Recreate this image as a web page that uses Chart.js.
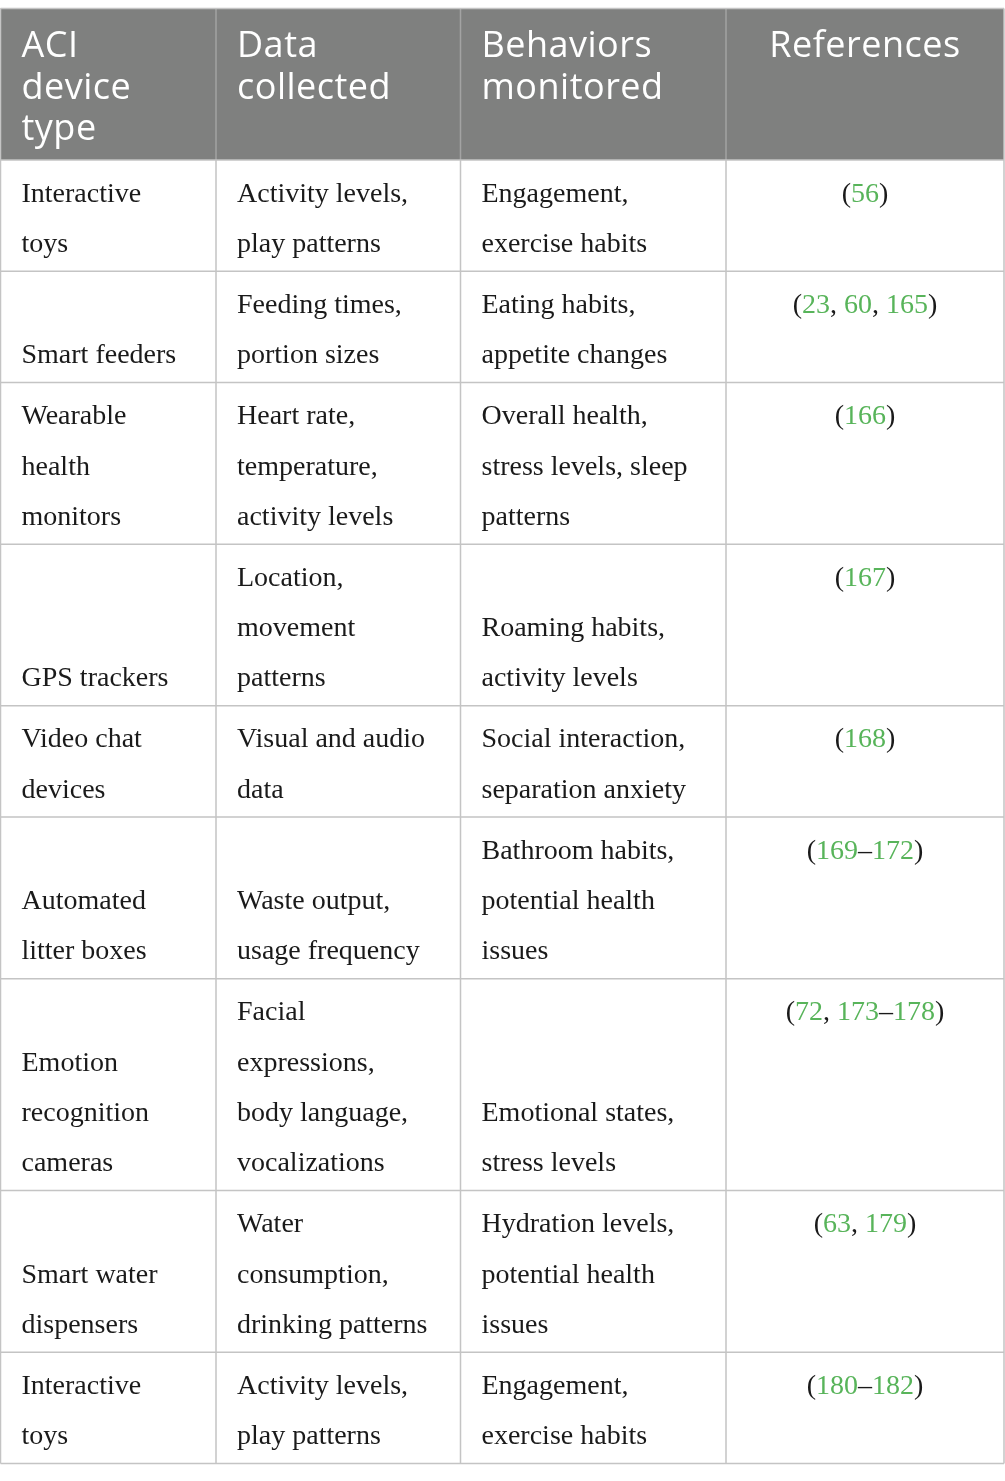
<!DOCTYPE html>
<html>
<head>
<meta charset="utf-8">
<script src="https://cdn.jsdelivr.net/npm/chart.js@4/dist/chart.umd.min.js"></script>
<style>
html,body{margin:0;padding:0;background:#fff;}
canvas{display:block;}
</style>
</head>
<body>
<canvas id="c" width="1005" height="1481"></canvas>
<script>
// ---- table content ----
const headers = [["ACI","device","type"],["Data","collected"],["Behaviors","monitored"],["References"]];
const deviceTypes = [["Interactive","toys"],["Smart feeders"],["Wearable","health","monitors"],["GPS trackers"],["Video chat","devices"],["Automated","litter boxes"],["Emotion","recognition","cameras"],["Smart water","dispensers"],["Interactive","toys"]];
const dataCollected = [["Activity levels,","play patterns"],["Feeding times,","portion sizes"],["Heart rate,","temperature,","activity levels"],["Location,","movement","patterns"],["Visual and audio","data"],["Waste output,","usage frequency"],["Facial","expressions,","body language,","vocalizations"],["Water","consumption,","drinking patterns"],["Activity levels,","play patterns"]];
const behaviors = [["Engagement,","exercise habits"],["Eating habits,","appetite changes"],["Overall health,","stress levels, sleep","patterns"],["Roaming habits,","activity levels"],["Social interaction,","separation anxiety"],["Bathroom habits,","potential health","issues"],["Emotional states,","stress levels"],["Hydration levels,","potential health","issues"],["Engagement,","exercise habits"]];
const references = ["(56)","(23, 60, 165)","(166)","(167)","(168)","(169–172)","(72, 173–178)","(63, 179)","(180–182)"];

// ---- layout (not data) ----
const L = {
  colEdges:[0.5,216,460.5,726,1004],
  top:8.5, headerH:151.5,
  lineH:50.3, pad:5.35, baseOff:36.3,
  hLineH:41.5, hBaseOff:48.5,
  textX:21,
  headerBg:'#7f807f', grid:'#c4c4c4', headerGrid:'#a3a3a3',
  bodyColor:'#1a1a1a', refColor:'#58b45a',
  bodyFont:'28px "Liberation Serif", "Times New Roman", serif',
  headFont:'36px "Open Sans", "Noto Sans", sans-serif',
  headSpacing:'0.5px'
};

const cols=[deviceTypes,dataCollected,behaviors];
const rowLines = deviceTypes.map((_,i)=>Math.max(deviceTypes[i].length,dataCollected[i].length,behaviors[i].length,1));
const rowEdges=[L.top+L.headerH];
rowLines.forEach(n=>rowEdges.push(rowEdges[rowEdges.length-1]+n*L.lineH+2*L.pad));

function drawRef(ctx,text,cx,y){
  const parts=text.split(/(\d+)/).filter(s=>s.length);
  ctx.font=L.bodyFont;
  let w=0; parts.forEach(p=>w+=ctx.measureText(p).width);
  let x=cx-w/2;
  ctx.textAlign='left';
  parts.forEach(p=>{
    ctx.fillStyle=/^\d+$/.test(p)?L.refColor:L.bodyColor;
    ctx.fillText(p,x,y);
    x+=ctx.measureText(p).width;
  });
}

const tablePlugin={
  id:'table',
  afterDraw(chart){
    const ctx=chart.ctx, xs=chart.scales.x, ys=chart.scales.y;
    const X=v=>xs.getPixelForValue(v), Y=v=>ys.getPixelForValue(v);
    const E=L.colEdges;
    ctx.save();
    // header background
    ctx.fillStyle=L.headerBg;
    ctx.fillRect(X(E[0]),Y(L.top),X(E[4])-X(E[0]),Y(L.top+L.headerH)-Y(L.top));
    // header texts
    ctx.font=L.headFont; ctx.fillStyle='#ffffff'; ctx.textBaseline='alphabetic';
    if('letterSpacing' in ctx) ctx.letterSpacing=L.headSpacing;
    headers.forEach((lines,c)=>{
      lines.forEach((t,k)=>{
        const y=Y(L.top+L.hBaseOff+k*L.hLineH);
        if(c===3){ctx.textAlign='center';ctx.fillText(t,(X(E[c])+X(E[c+1]))/2,y);}
        else {ctx.textAlign='left';ctx.fillText(t,X(E[c])+L.textX,y);}
      });
    });
    if('letterSpacing' in ctx) ctx.letterSpacing='0px';
    // body texts
    ctx.font=L.bodyFont;
    rowLines.forEach((n,r)=>{
      const top=rowEdges[r]+L.pad;
      cols.forEach((col,c)=>{
        const lines=col[r], off=n-lines.length; // bottom aligned
        ctx.fillStyle=L.bodyColor; ctx.textAlign='left';
        lines.forEach((t,k)=>{
          ctx.fillText(t,X(E[c])+L.textX,Y(top+(off+k)*L.lineH+L.baseOff));
        });
      });
      drawRef(ctx,references[r],(X(E[3])+X(E[4]))/2,Y(top+L.baseOff));
    });
    // grid lines
    ctx.lineWidth=1.5;
    ctx.strokeStyle=L.headerGrid;
    ctx.beginPath();
    for(let c=1;c<4;c++){ctx.moveTo(X(E[c]),Y(L.top));ctx.lineTo(X(E[c]),Y(rowEdges[0]));}
    ctx.stroke();
    ctx.strokeStyle=L.grid;
    ctx.beginPath();
    ctx.moveTo(X(E[0]),Y(L.top));ctx.lineTo(X(E[4]),Y(L.top));
    ctx.moveTo(X(E[0]),Y(L.top));ctx.lineTo(X(E[0]),Y(rowEdges[0]));
    ctx.moveTo(X(E[4]),Y(L.top));ctx.lineTo(X(E[4]),Y(rowEdges[0]));
    rowEdges.forEach(y=>{ctx.moveTo(X(E[0]),Y(y));ctx.lineTo(X(E[4]),Y(y));});
    E.forEach(x=>{ctx.moveTo(X(x),Y(rowEdges[0]));ctx.lineTo(X(x),Y(rowEdges[rowEdges.length-1]));});
    ctx.stroke();
    ctx.restore();
  }
};

new Chart(document.getElementById('c'),{
  type:'scatter',
  data:{datasets:[{data:[],pointRadius:0}]},
  options:{
    responsive:false, animation:false, devicePixelRatio:1,
    layout:{padding:0},
    plugins:{legend:{display:false},tooltip:{enabled:false}},
    scales:{
      x:{type:'linear',min:0,max:1005,display:false},
      y:{type:'linear',min:0,max:1481,reverse:true,display:false}
    }
  },
  plugins:[tablePlugin]
});
</script>
</body>
</html>
